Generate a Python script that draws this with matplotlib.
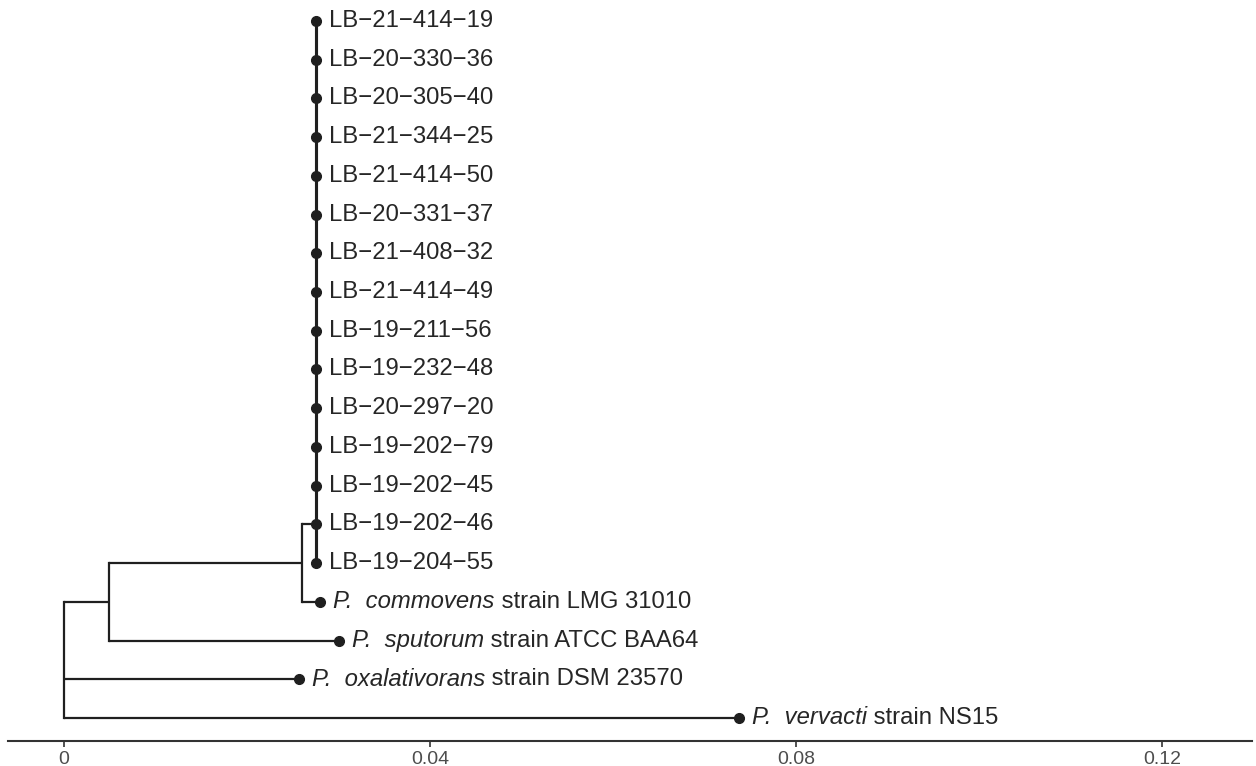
import matplotlib
matplotlib.use("Agg")
import matplotlib.pyplot as plt
from matplotlib.transforms import offset_copy

plt.rcParams['font.family'] = ['Liberation Sans', 'DejaVu Sans']

M = "\u2212"  # the tree labels use a real minus sign

# tips, top to bottom: (italic part, plain part)
tip_italic = [""] * 15 + ["P.  commovens", "P.  sputorum", "P.  oxalativorans", "P.  vervacti"]
tip_plain = ["LB-21-414-19", "LB-20-330-36", "LB-20-305-40", "LB-21-344-25",
             "LB-21-414-50", "LB-20-331-37", "LB-21-408-32", "LB-21-414-49",
             "LB-19-211-56", "LB-19-232-48", "LB-20-297-20", "LB-19-202-79",
             "LB-19-202-45", "LB-19-202-46", "LB-19-204-55",
             " strain LMG 31010", " strain ATCC BAA64", " strain DSM 23570", " strain NS15"]
tip_x = [0.0275] * 15 + [0.0280, 0.0300, 0.0257, 0.0738]
tip_y = list(range(19, 0, -1))
tip_parent = ["lb"] * 15 + ["n2", "n1", "root", "root"]

# internal nodes
node_names = ["root", "n1", "n2", "lb"]
node_x = [0.0, 0.0049, 0.0260, 0.0275]
node_y = [2.33, 4.0, 5.0, 6.0]
node_parent = [None, "root", "n1", "n2"]

fig = plt.figure(figsize=(12.56, 7.66), dpi=100)
ax = fig.add_axes([8 / 1256, 25 / 766, 1244 / 1256, 741 / 766])

col = "#1f1f1f"
tcol = "#262626"
lw = 1.6
fs = 17.2

nx = dict(zip(node_names, node_x))
ny = dict(zip(node_names, node_y))

children = {n: [] for n in node_names}
for x, y, p in zip(tip_x, tip_y, tip_parent):
    children[p].append(y)
    ax.plot([nx[p], x], [y, y], color=col, lw=lw, solid_capstyle='butt')
for n, x, y, p in zip(node_names, node_x, node_y, node_parent):
    if p is not None:
        children[p].append(y)
        ax.plot([nx[p], x], [y, y], color=col, lw=lw, solid_capstyle='butt')

for n in node_names:
    ys = children[n]
    ax.plot([nx[n], nx[n]], [min(ys), max(ys)], color=col,
            lw=lw * 1.4 if n == "lb" else lw, solid_capstyle='projecting')

ax.plot(tip_x, tip_y, 'o', color=col, ms=7, zorder=3)

off = offset_copy(ax.transData, fig=fig, x=13, y=0, units='dots')
for it, pl, x, y in zip(tip_italic, tip_plain, tip_x, tip_y):
    pl = pl.replace("-", M)
    if it:
        t = ax.text(x, y, it, transform=off, ha='left', va='center',
                    fontsize=fs, style='italic', color=tcol)
        ax.annotate(pl, xy=(1, 0.5), xycoords=t, ha='left', va='center',
                    fontsize=fs, color=tcol)
    else:
        ax.text(x, y, pl, transform=off, ha='left', va='center',
                fontsize=fs, color=tcol)

ax.set_xlim(-0.00612, 0.1298)
ax.set_ylim(0.406, 19.54)
ax.set_xticks([0, 0.04, 0.08, 0.12])
ax.set_xticklabels(["0", "0.04", "0.08", "0.12"])
ax.set_yticks([])
for s in ["top", "right", "left"]:
    ax.spines[s].set_visible(False)
ax.spines["bottom"].set_color("#333333")
ax.spines["bottom"].set_linewidth(1.5)
ax.tick_params(axis='x', length=4, width=1.2, color="#333333",
               labelsize=14, labelcolor="#4d4d4d", pad=3)
ax.patch.set_visible(False)

fig.savefig("out.png", dpi=100)
